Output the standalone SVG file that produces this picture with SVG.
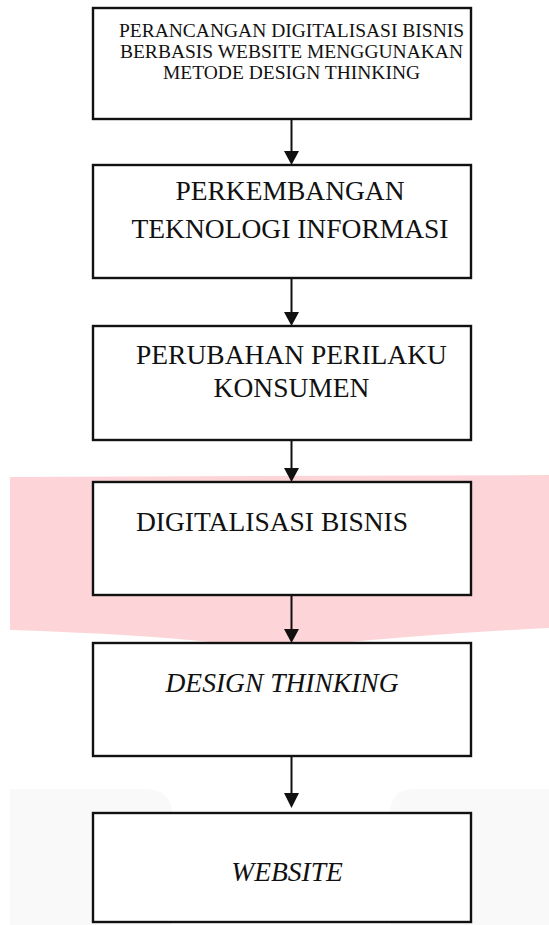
<svg xmlns="http://www.w3.org/2000/svg" width="549" height="925" viewBox="0 0 549 925">
  <style>
    .box { fill: #ffffff; stroke: #111111; stroke-width: 2.4; }
    .t { font-family: "Liberation Serif", "Times New Roman", serif; fill: #111111; text-anchor: middle; }
    .sm { font-size: 19.5px; }
    .lg { font-size: 27.5px; }
    .it { font-style: italic; }
    .wire { stroke: #111111; stroke-width: 2; fill: none; }
    .head { fill: #111111; }
  </style>

  <rect x="0" y="0" width="549" height="925" fill="#ffffff"/>

  <!-- background band and lower panels -->
  <g id="backdrop">
    <path d="M10,477 L549,475 L549,628 Q430,634 330,644 L230,644 Q140,634 10,630 Z" fill="#fdd5d9"/>
    <path d="M10,925 L10,789 L145,789 Q172,789 172,815 L172,925 Z" fill="#f9f9f9"/>
    <path d="M549,925 L549,789 L414,789 Q390,789 390,815 L390,925 Z" fill="#f9f9f9"/>
  </g>

  <!-- connectors -->
  <g id="connectors">
    <line class="wire" x1="291.5" y1="120" x2="291.5" y2="152"/>
    <polygon class="head" points="284,151 299,151 291.5,165"/>
    <line class="wire" x1="291.5" y1="279" x2="291.5" y2="313"/>
    <polygon class="head" points="284,312 299,312 291.5,326"/>
    <line class="wire" x1="291.5" y1="441" x2="291.5" y2="469"/>
    <polygon class="head" points="284,468 299,468 291.5,482"/>
    <line class="wire" x1="291.5" y1="596" x2="291.5" y2="630"/>
    <polygon class="head" points="284,629 299,629 291.5,643"/>
    <line class="wire" x1="291.5" y1="757" x2="291.5" y2="794"/>
    <polygon class="head" points="284,793 299,793 291.5,808"/>
  </g>

  <g id="judul">
    <rect class="box" x="93" y="8" width="378" height="111"/>
    <text class="t sm" x="291.5" y="37">PERANCANGAN DIGITALISASI BISNIS</text>
    <text class="t sm" x="291.5" y="58">BERBASIS WEBSITE MENGGUNAKAN</text>
    <text class="t sm" x="291.5" y="79">METODE DESIGN THINKING</text>
  </g>

  <g id="perkembangan">
    <rect class="box" x="93" y="165" width="378" height="113"/>
    <text class="t lg" x="290" y="200">PERKEMBANGAN</text>
    <text class="t lg" x="290" y="238">TEKNOLOGI INFORMASI</text>
  </g>

  <g id="perilaku">
    <rect class="box" x="93" y="326" width="378" height="114"/>
    <text class="t lg" x="291.5" y="364">PERUBAHAN PERILAKU</text>
    <text class="t lg" x="291.5" y="397">KONSUMEN</text>
  </g>

  <g id="digitalisasi">
    <rect class="box" x="93" y="482" width="378" height="113"/>
    <text class="t lg" x="272" y="531">DIGITALISASI BISNIS</text>
  </g>

  <g id="design-thinking">
    <rect class="box" x="93" y="643" width="378" height="113"/>
    <text class="t lg it" x="282" y="692">DESIGN THINKING</text>
  </g>

  <g id="website">
    <rect class="box" x="93" y="813" width="378" height="109"/>
    <text class="t lg it" x="287" y="881">WEBSITE</text>
  </g>
</svg>
